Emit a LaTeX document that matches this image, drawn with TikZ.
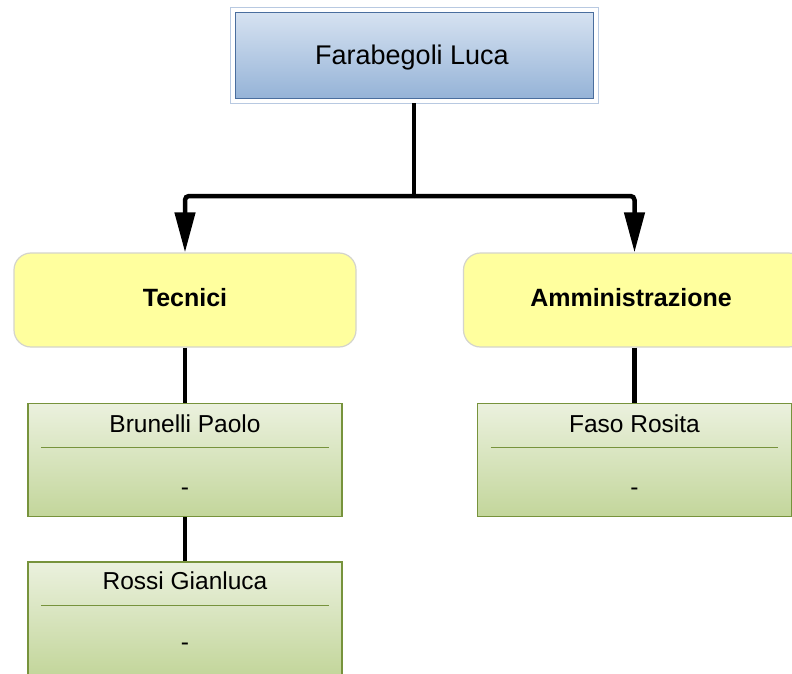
\documentclass[tikz,border=0pt]{standalone}
\usepackage{fontspec}
\setmainfont{Liberation Sans}
\usetikzlibrary{arrows.meta,calc}
\definecolor{bluetop}{HTML}{D6E2F1}
\definecolor{bluebot}{HTML}{95B3D7}
\definecolor{blueedge}{HTML}{4A6E9E}
\definecolor{bluefrm}{HTML}{B8C9E1}
\definecolor{yel}{HTML}{FFFF9E}
\definecolor{yeledge}{HTML}{D4D4CC}
\definecolor{grtop}{HTML}{EBF1DE}
\definecolor{grbot}{HTML}{C3D69B}
\definecolor{gredge}{HTML}{77933C}
\begin{document}
\begin{tikzpicture}[x=1pt,y=-1pt,
  frm/.style={draw=bluefrm, line width=0.9pt, inner sep=0pt, minimum width=368pt, minimum height=96pt},
  topbox/.style={draw=blueedge, line width=1.6pt, top color=bluetop, bottom color=bluebot, inner sep=0pt, minimum width=358pt, minimum height=86pt},
  grp/.style={draw=yeledge, line width=1.2pt, fill=yel, rounded corners=17pt, inner sep=0pt, minimum width=342pt, minimum height=94pt},
  person/.style={draw=gredge, line width=1.2pt, top color=grtop, bottom color=grbot, inner sep=0pt, minimum width=314pt, minimum height=113pt},
  divline/.style={draw=gredge, line width=1pt},
  txt/.style={anchor=base, inner sep=0pt},
  bigtxt/.style={txt, font=\fontsize{27}{30}\selectfont},
  grptxt/.style={txt, font=\fontsize{25}{28}\selectfont\bfseries},
  nametxt/.style={txt, font=\fontsize{24.5}{28}\selectfont},
  conn/.style={line width=4.5pt, rounded corners=4pt},
  arr/.style={-{Triangle[length=40pt,width=20pt]}}
]
\useasboundingbox (0,0) rectangle (792,674);
\clip (0,0) rectangle (792,674);
\fill[white] (0,0) rectangle (792,674);

% top
\node[frm] (frame) at (414,55) {};
\node[topbox] (luca) at (414.5,55.5) {};
\node[bigtxt] (lucat) at (412,65) {Farabegoli Luca};

% groups
\node[grp] (tec) at (185,300) {};
\node[grptxt] (tect) at (185,306.5) {Tecnici};
\node[grp] (amm) at (634.5,300) {};
\node[grptxt] (ammt) at (631,306.5) {Amministrazione};

% persons
\node[person] (bru) at (185,460) {};
\node[nametxt] (brut) at (185,432.5) {Brunelli Paolo};
\node[nametxt] (brud) at (185,495) {-};
\draw[divline] ($(bru.north west)+(14,45)$) -- ($(bru.north east)+(-14,45)$);

\node[person] (ros) at (185,618.5) {};
\node[nametxt] (rost) at (185,589.5) {Rossi Gianluca};
\node[nametxt] (rosd) at (185,650.5) {-};
\draw[divline] ($(ros.north west)+(14,44)$) -- ($(ros.north east)+(-14,44)$);

\node[person] (fas) at (634.5,460) {};
\node[nametxt] (fast) at (634.5,432.5) {Faso Rosita};
\node[nametxt] (fasd) at (634.5,495) {-};
\draw[divline] ($(fas.north west)+(14,45)$) -- ($(fas.north east)+(-14,45)$);

% connectors
\coordinate (j) at (414,196);
\draw[conn] (frame.south) -- (j);
\draw[conn,arr] (j) -| (tec.north);
\draw[conn,arr] (j) -| (amm.north);
\draw[conn] (tec.south) -- (bru.north);
\draw[conn] (bru.south) -- (ros.north);
\draw[conn] (amm.south) -- (fas.north);
\end{tikzpicture}
\end{document}
